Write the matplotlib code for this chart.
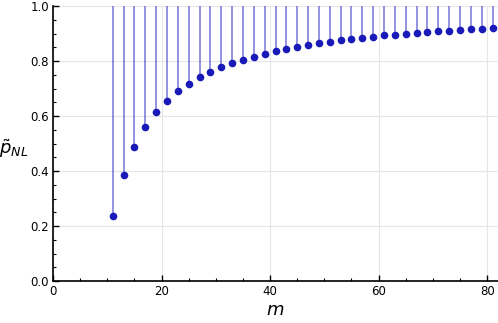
import matplotlib.pyplot as plt
import numpy as np
from matplotlib.ticker import MultipleLocator

m = [11, 13, 15, 17, 19, 21, 23, 25, 27, 29, 31, 33, 35, 37, 39, 41, 43, 45,
     47, 49, 51, 53, 55, 57, 59, 61, 63, 65, 67, 69, 71, 73, 75, 77, 79, 81]
p_nl = [0.236, 0.385, 0.487, 0.559, 0.613, 0.656, 0.690, 0.718, 0.741, 0.760,
        0.777, 0.793, 0.805, 0.816, 0.826, 0.836, 0.844, 0.851, 0.858, 0.864,
        0.870, 0.875, 0.880, 0.885, 0.888, 0.893, 0.896, 0.899, 0.902, 0.905,
        0.908, 0.910, 0.913, 0.915, 0.918, 0.920]

point_color = (0.1, 0.1, 0.72)

fig = plt.figure(figsize=(4.98, 3.23), dpi=100)
ax = fig.add_axes([53 / 498, 42 / 323, 1 - 53 / 498, 275 / 323])

# stems filled to the top of the plot
ax.vlines(m, p_nl, 1.0, color=point_color, alpha=0.55, lw=1.2, zorder=2)
ax.plot(m, p_nl, "o", color=point_color, ms=5.5, mec="none", zorder=3)

ax.set_xlim(0, 82)
ax.set_ylim(0, 1)
ax.xaxis.set_major_locator(MultipleLocator(20))
ax.xaxis.set_minor_locator(MultipleLocator(5))
ax.yaxis.set_major_locator(MultipleLocator(0.2))
ax.yaxis.set_minor_locator(MultipleLocator(0.05))
ax.yaxis.set_major_formatter(plt.FormatStrFormatter("%.1f"))

ax.grid(True, which="major", color="#e6e6e6", lw=0.8, zorder=0)
ax.set_axisbelow(True)

for side in ("top", "right"):
    ax.spines[side].set_visible(False)
for side in ("left", "bottom"):
    ax.spines[side].set_linewidth(1.2)

ax.tick_params(which="major", direction="in", length=4, width=1.0,
               labelsize=8.5, colors="black", pad=3)
ax.tick_params(which="minor", direction="in", length=2, width=0.8)

ax.set_xlabel(r"$m$", fontsize=13, labelpad=2)
ax.set_ylabel(r"$\tilde{p}_{NL}$", fontsize=13, rotation=0, ha="center",
              va="center")
ax.yaxis.set_label_coords(-0.088, 0.48)

fig.savefig("out.png", dpi=100)
